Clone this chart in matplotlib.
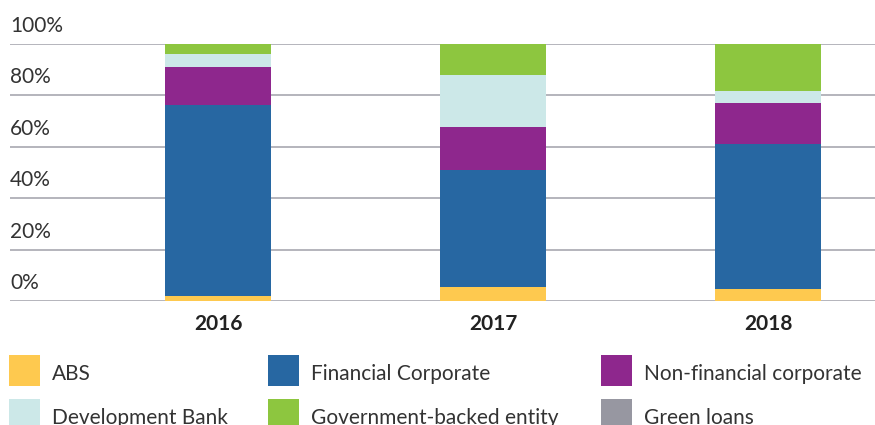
import matplotlib
matplotlib.use("Agg")
import matplotlib.pyplot as plt
from matplotlib.patches import Rectangle
import numpy as np

years = ["2016", "2017", "2018"]
series = ["ABS", "Financial Corporate", "Non-financial corporate",
          "Development Bank", "Government-backed entity", "Green loans"]
abs_vals = [2.1, 5.4, 4.7]
fin_corp = [74.2, 45.6, 56.5]
nonfin_corp = [14.8, 16.6, 15.8]
dev_bank = [5.0, 20.2, 4.7]
gov_backed = [3.9, 12.2, 18.3]
green_loans = [0.0, 0.0, 0.0]
yticks = [0, 20, 40, 60, 80, 100]

colors = ["#FEC94F", "#2767A2", "#8E278D", "#CCE8E8", "#8DC63F", "#9797A1"]
values = [abs_vals, fin_corp, nonfin_corp, dev_bank, gov_backed, green_loans]

plt.rcParams["font.family"] = ["Lato", "DejaVu Sans"]
text_col = "#333333"
W, H = 875, 425

fig = plt.figure(figsize=(W / 100, H / 100), dpi=100)
ax = fig.add_axes([10 / W, (H - 301) / H, 1 - 10 / W, 257 / H])

x = np.arange(len(years))
bottom = np.zeros(len(years))
for name, vals, c in zip(series, values, colors):
    ax.bar(x, vals, bottom=bottom, width=0.385, color=c, label=name, zorder=2)
    bottom += np.array(vals)

# gridlines with labels sitting above them
for v in yticks:
    ax.axhline(v, color="#B4B4BC", lw=1.4, zorder=1)
    ax.annotate(f"{v}%", xy=(0, v), xycoords=("axes fraction", "data"),
                xytext=(0, 8), textcoords="offset pixels",
                ha="left", va="bottom", fontsize=15, color=text_col)

ax.set_xlim(-0.7564, 2.389)
ax.set_ylim(0, 100)
ax.set_yticks([])
ax.set_xticks(x)
ax.set_xticklabels(years, fontsize=15, fontweight="bold", color="#222222")
ax.tick_params(axis="x", length=0, pad=9)
for s in ax.spines.values():
    s.set_visible(False)

# legend drawn by hand: 2 rows x 3 columns
col_x = [9, 268, 601]
row_y = [355, 399]
for i, (name, c) in enumerate(zip(series, colors)):
    px, py = col_x[i % 3], row_y[i // 3]
    fig.add_artist(Rectangle((px / W, (H - py - 31) / H), 31 / W, 31 / H,
                             transform=fig.transFigure, facecolor=c,
                             edgecolor="none"))
    fig.text((px + 43) / W, (H - py - 25) / H, name, ha="left",
             va="baseline", fontsize=15, color=text_col)

fig.savefig("out.png", dpi=100)
